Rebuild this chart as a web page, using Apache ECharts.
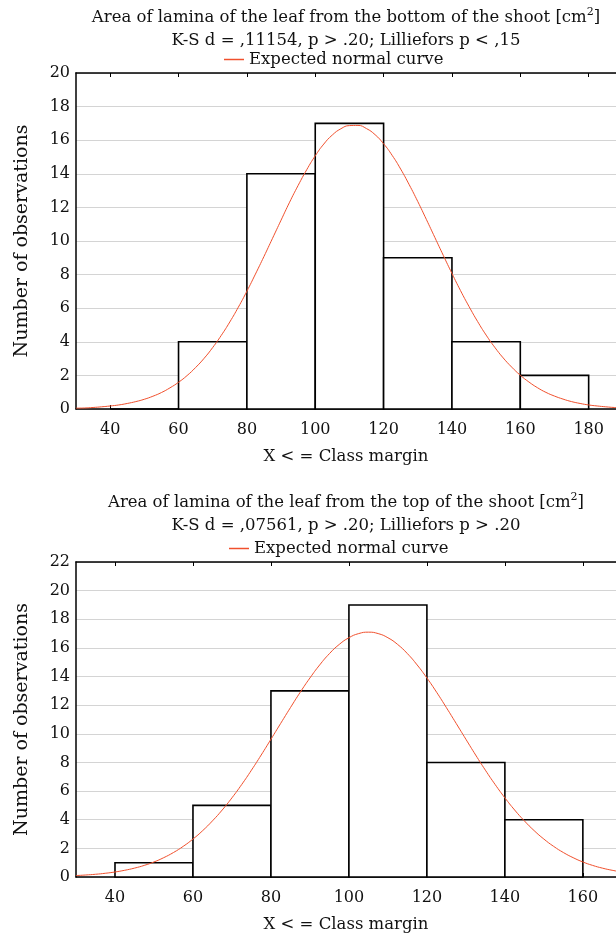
<!DOCTYPE html>
<html><head><meta charset="utf-8">
<script src="https://cdn.jsdelivr.net/npm/echarts@6/dist/echarts.min.js"></script>
<style>html,body{margin:0;padding:0;background:#fff}#c{width:616px;height:936px}</style>
</head><body><div id="c"></div>
<script>
// ---- data ----
var binEdges1 = [40, 60, 80, 100, 120, 140, 160, 180];
var counts1 = [0, 4, 14, 17, 9, 4, 2];
var curveX1 = [30,32.5,35,37.5,40,42.5,45,47.5,50,52.5,55,57.5,60,62.5,65,67.5,70,72.5,75,77.5,80,82.5,85,87.5,90,92.5,95,97.5,100,102.5,105,107.5,110,112.5,115,117.5,120,122.5,125,127.5,130,132.5,135,137.5,140,142.5,145,147.5,150,152.5,155,157.5,160,162.5,165,167.5,170,172.5,175,177.5,180,182.5,185,187.5,190];
var curveY1 = [0.05,0.06,0.09,0.13,0.18,0.24,0.33,0.44,0.58,0.76,0.98,1.26,1.59,1.99,2.47,3.02,3.66,4.38,5.18,6.06,7.01,8.03,9.08,10.16,11.24,12.31,13.31,14.24,15.07,15.77,16.31,16.68,16.87,16.88,16.69,16.33,15.79,15.10,14.28,13.35,12.35,11.29,10.21,9.13,8.07,7.05,6.10,5.21,4.40,3.68,3.04,2.49,2.01,1.61,1.27,0.99,0.77,0.59,0.44,0.33,0.24,0.18,0.13,0.09,0.07];
var binEdges2 = [40, 60, 80, 100, 120, 140, 160];
var counts2 = [1, 5, 13, 19, 8, 4];
var curveX2 = [30,32.5,35,37.5,40,42.5,45,47.5,50,52.5,55,57.5,60,62.5,65,67.5,70,72.5,75,77.5,80,82.5,85,87.5,90,92.5,95,97.5,100,102.5,105,107.5,110,112.5,115,117.5,120,122.5,125,127.5,130,132.5,135,137.5,140,142.5,145,147.5,150,152.5,155,157.5,160,162.5,165,167.5,170];
var curveY2 = [0.10,0.14,0.19,0.26,0.35,0.47,0.62,0.81,1.05,1.35,1.71,2.14,2.65,3.24,3.92,4.68,5.53,6.46,7.46,8.52,9.62,10.73,11.83,12.90,13.90,14.81,15.60,16.24,16.71,17.00,17.10,17.00,16.71,16.24,15.60,14.81,13.90,12.90,11.83,10.73,9.62,8.52,7.46,6.46,5.53,4.68,3.92,3.24,2.65,2.14,1.71,1.35,1.05,0.81,0.62,0.47,0.35];
var xTicks1 = [40, 60, 80, 100, 120, 140, 160, 180];
var xTicks2 = [40, 60, 80, 100, 120, 140, 160];
var title1 = 'Area of lamina of the leaf from the bottom of the shoot [cm{sup|2}]\nK-S d = ,11154, p > .20; Lilliefors p < ,15';
var title2 = 'Area of lamina of the leaf from the top of the shoot [cm{sup|2}]\nK-S d = ,07561, p > .20; Lilliefors p > .20';
var legendName = 'Expected normal curve';
var xName = 'X < = Class margin';
var yName = 'Number of observations';

// ---- build ----
function histData(edges, counts){
  var out = [];
  for (var i = 0; i < counts.length; i++) out.push([edges[i], edges[i+1], counts[i]]);
  return out;
}
function zip(a, b){ return a.map(function(v, i){ return [v, b[i]]; }); }
function renderHist(params, api){
  var p0 = api.coord([api.value(0), api.value(2)]);
  var p1 = api.coord([api.value(1), 0]);
  return {type:'rect', shape:{x:p0[0], y:p0[1], width:p1[0]-p0[0], height:p1[1]-p0[1]},
    style:{fill:'#fff', stroke:'#000', lineWidth:1.6}};
}
var FONT = 'DejaVu Serif';
var txt = {fontFamily: FONT, color:'#111'};
var RED = '#f0502d';
function titleOpt(text, top){
  return {text: text, left: 346, top: top, textAlign:'center', padding:0,
    textStyle:{fontFamily:FONT, fontWeight:'normal', fontSize:16.5, color:'#111', lineHeight:23,
      rich:{sup:{fontFamily:FONT, fontSize:11, color:'#111', padding:[0,0,10,0]}}}};
}
function xAxisBottom(gi, max, ticks){
  return {type:'value', gridIndex:gi, min:30, max:max, position:'bottom',
    name:xName, nameLocation:'middle', nameGap:39, nameTextStyle:Object.assign({fontSize:16.5}, txt),
    axisLine:{onZero:false, lineStyle:{color:'#000', width:1.5}},
    axisTick:{show:true, inside:true, length:4, customValues:ticks, lineStyle:{color:'#000'}},
    axisLabel:Object.assign({fontSize:16, margin:13, customValues:ticks}, txt),
    splitLine:{show:false}};
}
function xAxisTop(gi, max, ticks){
  return {type:'value', gridIndex:gi, min:30, max:max, position:'top',
    axisLine:{onZero:false, lineStyle:{color:'#000', width:1.5}},
    axisTick:{show:true, inside:true, length:4, customValues:ticks, lineStyle:{color:'#000'}},
    axisLabel:{show:false}, splitLine:{show:false}};
}
function yAxis(gi, max){
  return {type:'value', gridIndex:gi, min:0, max:max, interval:2,
    name:yName, nameLocation:'middle', nameGap:44, nameRotate:90,
    nameTextStyle:Object.assign({fontSize:19}, txt),
    axisLine:{show:true, lineStyle:{color:'#000', width:1.5}},
    axisTick:{show:false},
    axisLabel:Object.assign({fontSize:16, margin:6}, txt),
    splitLine:{show:true, lineStyle:{color:'#d4d4d4', width:1.2}}};
}
var chart = echarts.init(document.getElementById('c'), null, {renderer:'canvas'});
chart.setOption({
  backgroundColor:'#fff',
  animation:false,
  title:[titleOpt(title1, 6), titleOpt(title2, 491)],
  legend:[
    {left:224, top:51, itemWidth:20, itemHeight:1.5, icon:'rect', itemGap:5, padding:0,
     data:[legendName], textStyle:Object.assign({fontSize:16.5}, txt)},
    {left:229, top:540, itemWidth:20, itemHeight:1.5, icon:'rect', itemGap:5, padding:0,
     data:[legendName], textStyle:Object.assign({fontSize:16.5}, txt)}
  ],
  grid:[
    {left:76, top:73, right:0, height:336},
    {left:76, top:562, right:0, height:315}
  ],
  xAxis:[xAxisBottom(0, 188, xTicks1), xAxisTop(0, 188, xTicks1), xAxisBottom(1, 168.5, xTicks2), xAxisTop(1, 168.5, xTicks2)],
  yAxis:[yAxis(0, 20), yAxis(1, 22)],
  series:[
    {type:'custom', xAxisIndex:0, yAxisIndex:0, renderItem:renderHist, encode:{x:[0,1], y:2}, data:histData(binEdges1, counts1), z:2, silent:true},
    {type:'line', name:legendName, xAxisIndex:0, yAxisIndex:0, data:zip(curveX1, curveY1), smooth:true, showSymbol:false, symbol:'none', lineStyle:{color:RED, width:1}, itemStyle:{color:RED}, z:3, clip:true},
    {type:'custom', xAxisIndex:2, yAxisIndex:1, renderItem:renderHist, encode:{x:[0,1], y:2}, data:histData(binEdges2, counts2), z:2, silent:true},
    {type:'line', name:legendName, xAxisIndex:2, yAxisIndex:1, data:zip(curveX2, curveY2), smooth:true, showSymbol:false, symbol:'none', lineStyle:{color:RED, width:1}, itemStyle:{color:RED}, z:3, clip:true}
  ]
});
</script></body></html>
